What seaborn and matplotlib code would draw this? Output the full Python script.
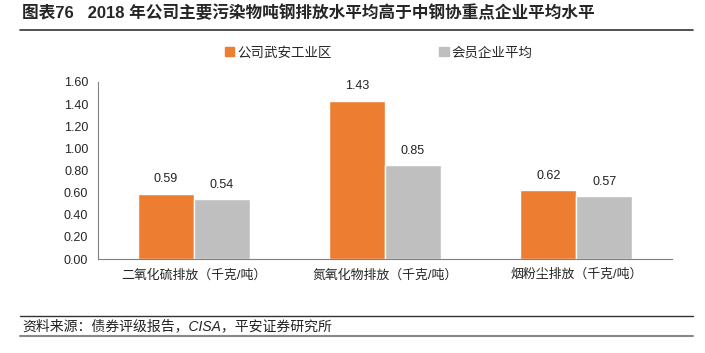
import matplotlib
matplotlib.use("Agg")
import matplotlib.pyplot as plt
import matplotlib.patches as mpatches
import matplotlib.lines as mlines
import pandas as pd
import seaborn as sns

categories = ["二氧化硫排放（千克/吨）", "氮氧化物排放（千克/吨）", "烟粉尘排放（千克/吨）"]
series_names = ["公司武安工业区", "会员企业平均"]
wuan_values = [0.59, 1.43, 0.62]
member_values = [0.54, 0.85, 0.57]
y_ticks = [0.0, 0.2, 0.4, 0.6, 0.8, 1.0, 1.2, 1.4, 1.6]

colors = ["#ED7D31", "#BFBFBF"]

df = pd.DataFrame({
    "category": categories * 2,
    "series": [series_names[0]] * 3 + [series_names[1]] * 3,
    "value": wuan_values + member_values,
})

sns.set_style("white")
plt.rcParams["font.family"] = ["Liberation Sans", "Noto Sans CJK SC", "DejaVu Sans"]

fig = plt.figure(figsize=(7.05, 3.53), dpi=100)
ax = fig.add_axes([0.139, 0.266, 0.814, 0.502])

sns.barplot(data=df, x="category", y="value", hue="series", order=categories,
            hue_order=series_names, palette=colors, width=0.585, gap=0,
            saturation=1, ax=ax, legend=False)

for container in ax.containers:
    ax.bar_label(container, fmt="%.2f", padding=6, fontsize=9, color="#222222")

ax.set_ylim(0, 1.6)
ax.set_yticks(y_ticks)
ax.set_yticklabels([f"{t:.2f}" for t in y_ticks], fontsize=9)
ax.set_xlim(-0.5, 2.5)
ax.set_xlabel("")
ax.set_ylabel("")
ax.tick_params(axis="x", length=0, labelsize=9.3, pad=7)
ax.tick_params(axis="y", length=3, width=0.8, color="#808080", direction="out", pad=4)
for side in ["top", "right"]:
    ax.spines[side].set_visible(False)
for side in ["left", "bottom"]:
    ax.spines[side].set_color("#808080")
    ax.spines[side].set_linewidth(0.8)

handles = [mpatches.Patch(color=c, label=n) for c, n in zip(colors, series_names)]
fig.legend(handles=handles, loc="center", bbox_to_anchor=(0.537, 0.85), ncol=2,
           frameon=False, fontsize=9.7, handlelength=0.7, handleheight=0.7,
           handletextpad=0.2, columnspacing=8.0)

# header and footer
fig.text(0.031, 0.963, "图表76   2018 年公司主要污染物吨钢排放水平均高于中钢协重点企业平均水平",
         fontsize=12, fontweight="bold", va="center", ha="left")
fig.add_artist(mlines.Line2D([0.028, 0.983], [0.915, 0.915], color="#333333", lw=1.2))
fig.add_artist(mlines.Line2D([0.028, 0.983], [0.105, 0.105], color="#333333", lw=1.0))
fig.text(0.031, 0.076, "资料来源：债券评级报告，CISA，平安证券研究所",
         fontsize=10, style="italic", va="center", ha="left", color="#222222")
fig.add_artist(mlines.Line2D([0.028, 0.983], [0.048, 0.048], color="#888888", lw=1.5))

fig.savefig("out.png", dpi=100)
